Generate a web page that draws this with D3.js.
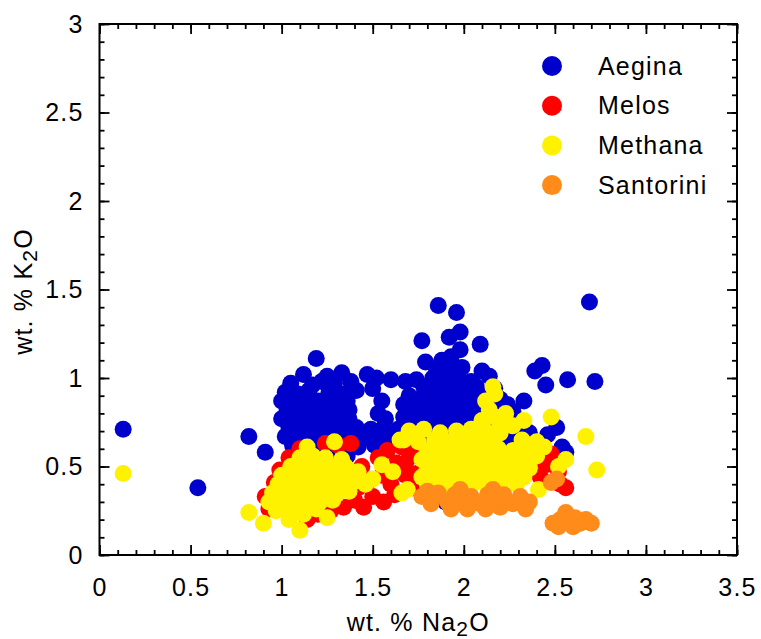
<!DOCTYPE html>
<html>
<head>
<meta charset="utf-8">
<script src="https://cdn.jsdelivr.net/npm/d3@7"></script>
<style>
  html, body { margin: 0; padding: 0; background: #fff; }
  svg { display: block; }
</style>
</head>
<body>
<div id="chart"></div>
<script>
// Series names (legend order = draw order)
const seriesNames = ['Aegina', 'Melos', 'Methana', 'Santorini']

// Tick values and labels
const xTicks = [0, 0.5, 1, 1.5, 2, 2.5, 3, 3.5]
const xTickLabels = ['0', '0.5', '1', '1.5', '2', '2.5', '3', '3.5']
const yTicks = [0, 0.5, 1, 1.5, 2, 2.5, 3]
const yTickLabels = ['0', '0.5', '1', '1.5', '2', '2.5', '3']

// [Na2O, K2O] wt. %
const aegina = [
  [0.13, 0.71], [0.54, 0.38], [0.82, 0.67], [0.91, 0.58],
  [2.69, 1.43], [2.57, 0.99], [2.72, 0.98],
  [1.19, 1.11],
  [1.12, 1.02], [1.25, 1.01], [1.33, 1.03], [1.47, 1.02], [1.52, 1.0],
  [1.05, 0.97], [1.17, 0.96], [1.22, 0.98], [1.29, 0.97], [1.38, 0.98], [1.60, 0.99], [1.68, 0.98],
  [1.02, 0.92], [1.09, 0.91], [1.15, 0.93], [1.26, 0.92], [1.34, 0.91], [1.41, 0.93], [1.50, 0.94],
  [1.00, 0.87], [1.07, 0.86], [1.13, 0.88], [1.20, 0.87], [1.28, 0.86], [1.36, 0.87], [1.55, 0.87],
  [1.03, 0.82], [1.10, 0.81], [1.18, 0.82], [1.24, 0.83], [1.31, 0.81], [1.37, 0.82], [1.53, 0.80],
  [1.00, 0.77], [1.06, 0.76], [1.14, 0.77], [1.22, 0.78], [1.29, 0.76], [1.37, 0.77], [1.57, 0.77], [1.67, 0.78],
  [1.04, 0.72], [1.11, 0.71], [1.19, 0.72], [1.27, 0.73], [1.33, 0.71], [1.41, 0.72], [1.49, 0.71], [1.56, 0.72], [1.64, 0.71],
  [1.02, 0.67], [1.09, 0.66], [1.17, 0.67], [1.24, 0.68], [1.31, 0.66], [1.38, 0.67], [1.46, 0.67], [1.55, 0.66], [1.62, 0.67],
  [1.06, 0.62], [1.14, 0.61], [1.21, 0.62], [1.34, 0.62], [1.42, 0.61], [1.51, 0.62],
  [1.08, 0.57], [1.16, 0.56], [1.25, 0.57], [1.36, 0.56],
  [1.86, 1.41], [1.96, 1.37], [1.77, 1.21], [1.92, 1.23], [1.98, 1.26], [2.09, 1.19], [1.79, 1.09], [1.98, 1.16],
  [2.39, 1.04], [2.43, 1.07], [2.45, 0.96], [1.74, 0.99],
  [1.88, 1.10], [1.93, 1.12],
  [1.85, 1.05], [1.92, 1.04], [1.99, 1.06], [2.10, 1.04],
  [1.83, 1.00], [1.90, 0.99], [1.97, 1.00], [2.04, 0.98], [2.14, 1.01],
  [1.78, 0.95], [1.86, 0.94], [1.93, 0.95], [2.00, 0.94], [2.07, 0.95], [2.17, 0.94],
  [1.70, 0.90], [1.77, 0.89], [1.84, 0.90], [1.91, 0.89], [1.98, 0.90], [2.05, 0.89], [2.12, 0.90], [2.20, 0.88],
  [1.67, 0.85], [1.74, 0.84], [1.81, 0.85], [1.88, 0.84], [1.95, 0.85], [2.02, 0.84], [2.09, 0.85], [2.16, 0.84], [2.24, 0.85],
  [1.71, 0.80], [1.78, 0.79], [1.85, 0.80], [1.92, 0.79], [1.99, 0.80], [2.06, 0.79], [2.13, 0.80], [2.20, 0.79], [2.27, 0.81],
  [1.68, 0.75], [1.75, 0.74], [1.82, 0.75], [1.89, 0.74], [1.96, 0.75], [2.03, 0.74], [2.10, 0.75], [2.17, 0.74], [2.24, 0.75], [2.31, 0.74],
  [1.72, 0.70], [1.79, 0.69], [1.86, 0.70], [1.93, 0.69], [2.00, 0.70], [2.07, 0.69], [2.14, 0.70], [2.21, 0.69], [2.28, 0.70], [2.36, 0.69],
  [1.76, 0.65], [1.83, 0.64], [1.90, 0.65], [1.97, 0.64], [2.04, 0.65], [2.11, 0.64], [2.18, 0.65], [2.26, 0.64], [2.34, 0.65],
  [1.80, 0.60], [1.88, 0.59], [1.95, 0.60], [2.02, 0.59], [2.10, 0.60],
  [1.92, 0.55], [2.00, 0.54],
  [2.33, 0.87], [2.41, 0.62], [2.46, 0.68], [2.51, 0.72], [2.54, 0.61], [2.56, 0.58],
  [1.90, 0.30], [1.96, 0.33]
]

const melos = [
  [0.91, 0.33], [0.93, 0.26], [0.96, 0.41], [0.99, 0.48], [1.04, 0.55], [1.10, 0.60], [1.02, 0.43],
  [1.06, 0.36], [1.12, 0.28], [1.14, 0.20], [1.20, 0.23], [1.27, 0.25], [1.34, 0.27],
  [1.24, 0.63], [1.31, 0.62], [1.38, 0.63],
  [1.40, 0.31], [1.45, 0.27], [1.50, 0.33], [1.56, 0.30], [1.62, 0.34], [1.44, 0.50], [1.48, 0.42],
  [1.53, 0.55], [1.58, 0.59], [1.66, 0.61], [1.55, 0.45], [1.60, 0.40], [1.63, 0.52], [1.68, 0.45],
  [1.70, 0.55], [1.72, 0.38], [1.74, 0.61], [1.76, 0.47], [1.42, 0.38], [1.68, 0.50], [1.72, 0.45],
  [1.18, 0.40], [1.25, 0.45], [1.30, 0.35], [1.16, 0.50],
  [1.82, 0.50], [1.88, 0.44], [1.95, 0.48], [2.02, 0.42], [2.08, 0.47], [2.15, 0.43], [2.22, 0.48],
  [2.29, 0.44], [2.36, 0.49],
  [2.42, 0.44], [2.45, 0.51], [2.48, 0.57], [2.52, 0.47], [2.56, 0.38], [2.53, 0.40]
]

const methana = [
  [0.13, 0.46], [0.82, 0.24], [0.90, 0.18], [1.10, 0.14],
  [1.14, 0.61], [1.29, 0.64],
  [1.10, 0.55], [1.17, 0.56], [1.24, 0.55], [1.33, 0.54],
  [1.05, 0.50], [1.12, 0.49], [1.19, 0.50], [1.26, 0.50], [1.35, 0.50], [1.42, 0.47],
  [1.00, 0.45], [1.07, 0.44], [1.14, 0.45], [1.21, 0.44], [1.28, 0.45], [1.36, 0.44],
  [0.98, 0.40], [1.04, 0.39], [1.11, 0.40], [1.18, 0.39], [1.25, 0.40], [1.32, 0.39], [1.39, 0.41], [1.46, 0.40],
  [0.95, 0.35], [1.02, 0.34], [1.09, 0.35], [1.16, 0.34], [1.23, 0.35], [1.30, 0.34], [1.37, 0.36],
  [0.93, 0.30], [1.00, 0.29], [1.07, 0.30], [1.14, 0.29], [1.21, 0.30], [1.28, 0.31],
  [0.97, 0.25], [1.05, 0.24], [1.12, 0.23], [1.19, 0.26], [1.25, 0.21],
  [1.04, 0.20],
  [1.55, 0.51], [1.50, 0.43], [1.65, 0.65], [1.66, 0.35], [1.61, 0.47],
  [1.70, 0.70], [1.78, 0.71], [1.87, 0.69], [1.96, 0.70], [2.04, 0.71], [2.12, 0.70], [2.20, 0.69],
  [1.67, 0.65], [1.75, 0.64], [1.84, 0.65], [1.93, 0.64], [2.01, 0.65], [2.09, 0.64], [2.16, 0.65], [2.32, 0.65], [2.40, 0.64],
  [1.80, 0.59], [1.88, 0.60], [1.96, 0.59], [2.04, 0.60], [2.12, 0.59], [2.19, 0.60], [2.27, 0.59], [2.35, 0.60], [2.44, 0.61],
  [1.77, 0.54], [1.84, 0.55], [1.91, 0.54], [1.98, 0.55], [2.05, 0.54], [2.12, 0.55], [2.19, 0.54], [2.26, 0.55], [2.33, 0.54], [2.40, 0.56],
  [1.80, 0.49], [1.87, 0.50], [1.94, 0.49], [2.01, 0.50], [2.08, 0.49], [2.15, 0.50], [2.22, 0.49], [2.29, 0.50], [2.36, 0.49],
  [1.77, 0.44], [1.84, 0.45], [1.91, 0.44], [1.98, 0.45], [2.05, 0.44], [2.12, 0.45], [2.19, 0.44], [2.26, 0.45], [2.33, 0.44],
  [1.80, 0.40], [1.88, 0.39], [1.96, 0.40], [2.04, 0.39], [2.12, 0.40], [2.20, 0.39], [2.29, 0.40], [2.41, 0.37],
  [1.69, 0.37],
  [2.10, 0.76], [2.17, 0.78], [2.23, 0.80], [2.14, 0.82], [2.12, 0.87], [2.17, 0.91], [2.16, 0.95],
  [2.20, 0.74], [2.27, 0.73], [2.33, 0.76],
  [2.48, 0.78], [2.56, 0.54], [2.52, 0.50], [2.67, 0.67], [2.73, 0.48]
]

const santorini = [
  [1.77, 0.33], [1.82, 0.29], [1.86, 0.35], [1.91, 0.30], [1.95, 0.34], [2.00, 0.29], [2.04, 0.33],
  [2.09, 0.29], [2.13, 0.34], [2.18, 0.30], [2.22, 0.34], [2.27, 0.29], [2.31, 0.33], [2.36, 0.30],
  [1.93, 0.26], [2.02, 0.26], [2.12, 0.26], [2.20, 0.27], [1.80, 0.36], [1.98, 0.37], [2.16, 0.37], [2.34, 0.26],
  [2.48, 0.41], [2.51, 0.43],
  [2.49, 0.18], [2.53, 0.20], [2.56, 0.24], [2.58, 0.18], [2.61, 0.21], [2.64, 0.18], [2.67, 0.20],
  [2.70, 0.18], [2.52, 0.16], [2.60, 0.16]
]

const seriesData = [aegina, melos, methana, santorini]

/**
 * Chart settings
 */
const config = {
  width: 761,
  height: 639,
  left: 99.5,
  right: 737,
  top: 24,
  bottom: 555,
  radius: 8.5,
  font: "'Liberation Sans', Arial, Helvetica, sans-serif",
  fontSize: 25,
  letterSpacing: 1.2,
  colors: ['#0000cc', '#ff0000', '#fff200', '#ff8c1a']
}

/**
 * Draw the scatter plot
 */
function renderChart() {
  const { width, height, left, right, top, bottom, radius, font, fontSize, letterSpacing, colors } = config

  const svg = d3.select('#chart')
    .append('svg')
    .attr('width', width)
    .attr('height', height)
    .attr('viewBox', `0 0 ${width} ${height}`)
    .style('font-family', font)
    .style('letter-spacing', letterSpacing + 'px')

  const x = d3.scaleLinear()
    .domain([0, 3.5])
    .range([left, right])

  const y = d3.scaleLinear()
    .domain([0, 3])
    .range([bottom, top])

  // Points
  seriesData.forEach((points, i) => {
    svg.append('g')
      .attr('class', 'series')
      .selectAll('circle')
      .data(points)
      .enter()
      .append('circle')
      .attr('cx', d => x(d[0]))
      .attr('cy', d => y(d[1]))
      .attr('r', radius)
      .attr('fill', colors[i])
  })

  // Axes: minor and major ticks on all four sides, pointing inward
  const styleAxis = g => {
    g.select('.domain').remove()
    g.selectAll('line').attr('stroke', '#000').attr('stroke-width', 1.8)
    g.selectAll('text')
      .attr('fill', '#000')
      .style('font-family', font)
      .style('font-size', fontSize + 'px')
  }

  const minorX = x.ticks(35)
  const minorY = y.ticks(30)

  svg.append('g')
    .attr('transform', `translate(0,${bottom})`)
    .call(d3.axisBottom(x).tickValues(minorX).tickSize(-5).tickFormat(''))
    .call(styleAxis)

  svg.append('g')
    .attr('transform', `translate(0,${bottom})`)
    .call(d3.axisBottom(x)
      .tickValues(xTicks)
      .tickSize(-10)
      .tickPadding(23)
      .tickFormat((d, i) => xTickLabels[i]))
    .call(styleAxis)

  svg.append('g')
    .attr('transform', `translate(0,${top})`)
    .call(d3.axisTop(x).tickValues(minorX).tickSize(-5).tickFormat(''))
    .call(styleAxis)

  svg.append('g')
    .attr('transform', `translate(0,${top})`)
    .call(d3.axisTop(x).tickValues(xTicks).tickSize(-10).tickFormat(''))
    .call(styleAxis)

  svg.append('g')
    .attr('transform', `translate(${left},0)`)
    .call(d3.axisLeft(y).tickValues(minorY).tickSize(-5).tickFormat(''))
    .call(styleAxis)

  svg.append('g')
    .attr('transform', `translate(${left},0)`)
    .call(d3.axisLeft(y)
      .tickValues(yTicks)
      .tickSize(-10)
      .tickPadding(16)
      .tickFormat((d, i) => yTickLabels[i]))
    .call(styleAxis)

  svg.append('g')
    .attr('transform', `translate(${right},0)`)
    .call(d3.axisRight(y).tickValues(minorY).tickSize(-5).tickFormat(''))
    .call(styleAxis)

  svg.append('g')
    .attr('transform', `translate(${right},0)`)
    .call(d3.axisRight(y).tickValues(yTicks).tickSize(-10).tickFormat(''))
    .call(styleAxis)

  // Frame
  svg.append('rect')
    .attr('x', left)
    .attr('y', top)
    .attr('width', right - left)
    .attr('height', bottom - top)
    .attr('fill', 'none')
    .attr('stroke', '#000')
    .attr('stroke-width', 2)

  // Axis titles
  const xTitle = svg.append('text')
    .attr('x', (left + right) / 2)
    .attr('y', 631)
    .attr('text-anchor', 'middle')
    .attr('font-size', fontSize)
  xTitle.append('tspan').text('wt. % Na')
  xTitle.append('tspan').attr('dy', 5).attr('font-size', 21).text('2')
  xTitle.append('tspan').attr('dy', -5).text('O')

  const yTitle = svg.append('text')
    .attr('transform', `translate(32,${(top + bottom) / 2 + 2}) rotate(-90)`)
    .attr('text-anchor', 'middle')
    .attr('font-size', fontSize)
  yTitle.append('tspan').text('wt. % K')
  yTitle.append('tspan').attr('dy', 5).attr('font-size', 21).text('2')
  yTitle.append('tspan').attr('dy', -5).text('O')

  // Legend
  const legend = svg.append('g')
    .attr('class', 'legend')
    .selectAll('g')
    .data(seriesNames)
    .enter()
    .append('g')
    .attr('transform', (d, i) => `translate(552,${66 + i * 39.7})`)

  legend.append('circle')
    .attr('r', 10)
    .attr('fill', (d, i) => colors[i])

  legend.append('text')
    .attr('x', 46)
    .attr('dy', '0.35em')
    .attr('font-size', fontSize)
    .text(d => d)
}

renderChart()
</script>
</body>
</html>
